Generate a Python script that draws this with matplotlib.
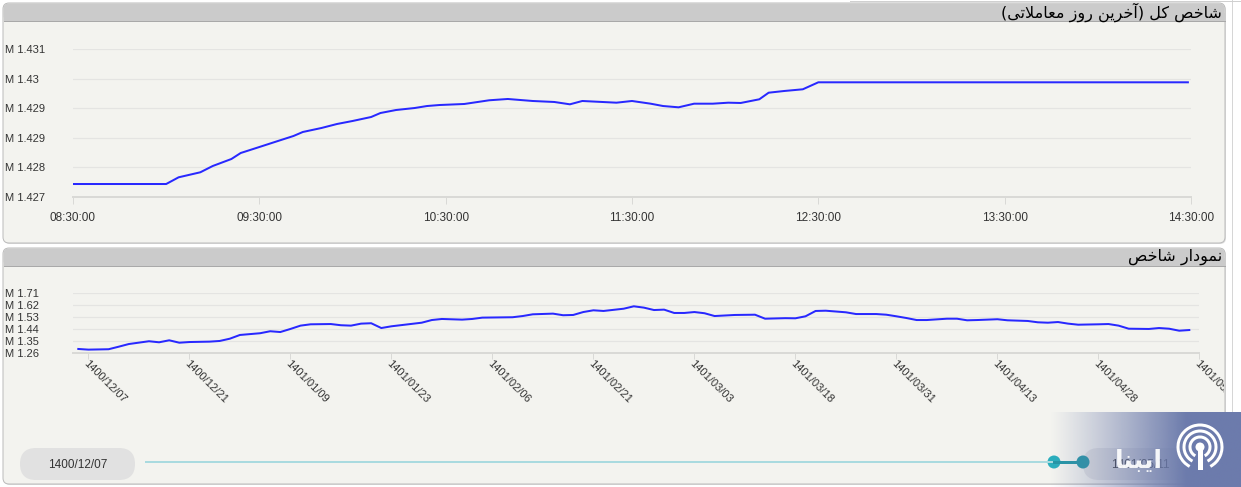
import matplotlib
matplotlib.use('Agg')
import matplotlib.pyplot as plt
from matplotlib.patches import FancyBboxPatch, Rectangle, Circle, Arc
from matplotlib.transforms import Bbox, TransformedBbox
import numpy as np

# ---- data ----
title_top = 'شاخص کل (آخرین روز معاملاتی)'
title_bottom = 'نمودار شاخص'
logo_text = 'ایبنا'

# intraday index (million points)
intraday_times = ['08:30', '09:00', '09:04', '09:11', '09:15', '09:21', '09:24', '09:30',
                  '09:36', '09:41', '09:44', '09:50', '09:55', '10:00', '10:06', '10:09',
                  '10:14', '10:20', '10:24', '10:28', '10:36', '10:44', '10:50', '10:58',
                  '11:05', '11:10', '11:14', '11:25', '11:30', '11:36', '11:40', '11:45',
                  '11:50', '11:56', '12:01', '12:05', '12:11', '12:14', '12:19', '12:25',
                  '12:30', '14:29']
intraday_values = [1.427351, 1.427351, 1.427532, 1.427668, 1.427838, 1.428027, 1.428189, 1.428351,
                   1.428514, 1.428649, 1.428757, 1.428865, 1.428973, 1.429054, 1.429162, 1.429270,
                   1.429351, 1.429405, 1.429459, 1.429486, 1.429514, 1.429614, 1.429649, 1.429595,
                   1.429568, 1.429505, 1.429595, 1.429549, 1.429595, 1.429522, 1.429459, 1.429424,
                   1.429522, 1.429522, 1.429549, 1.429541, 1.429641, 1.429819, 1.429865, 1.429911,
                   1.430100, 1.430100]
hour_labels = ['08:30:00', '09:30:00', '10:30:00', '11:30:00', '12:30:00', '13:30:00', '14:30:00']

# daily index (trading day number, million points)
daily_day = [0, 1, 3, 4, 5, 7, 8, 9, 10, 11, 13, 14, 15, 16, 18, 19, 20, 21, 22, 23, 25, 26, 27,
             28, 29, 30, 31, 33, 34, 35, 36, 38, 39, 40, 43, 44, 45, 47, 48, 49, 50, 51, 52, 54,
             55, 56, 57, 58, 59, 60, 61, 62, 63, 65, 67, 68, 70, 71, 72, 73, 74, 76, 77, 79, 80,
             81, 82, 83, 84, 86, 87, 88, 89, 91, 92, 94, 95, 96, 97, 98, 99, 101, 102, 103, 104,
             106, 107, 108, 109, 110]
daily_values = [1.288, 1.283, 1.286, 1.305, 1.325, 1.346, 1.338, 1.353, 1.335, 1.340, 1.343, 1.348,
                1.365, 1.393, 1.406, 1.421, 1.415, 1.438, 1.463, 1.473, 1.475, 1.466, 1.463,
                1.478, 1.481, 1.445, 1.458, 1.476, 1.485, 1.505, 1.513, 1.508, 1.513, 1.523,
                1.526, 1.535, 1.548, 1.553, 1.541, 1.543, 1.565, 1.578, 1.573, 1.590,
                1.608, 1.598, 1.580, 1.583, 1.558, 1.558, 1.565, 1.556, 1.535, 1.543, 1.545,
                1.515, 1.519, 1.518, 1.533, 1.573, 1.575, 1.563, 1.550, 1.550, 1.545,
                1.533, 1.520, 1.505, 1.505, 1.515, 1.515, 1.503, 1.505, 1.511, 1.503, 1.498,
                1.488, 1.485, 1.490, 1.478, 1.470, 1.473, 1.475, 1.463, 1.440,
                1.438, 1.445, 1.440, 1.425, 1.430]
date_labels = ['1400/12/07', '1400/12/21', '1401/01/09', '1401/01/23', '1401/02/06', '1401/02/21',
               '1401/03/03', '1401/03/18', '1401/03/31', '1401/04/13', '1401/04/28', '1401/05/11']
range_start = '1400/12/07'
range_end = '1401/05/11'

top_yticks = [1.4270, 1.4278, 1.4286, 1.4294, 1.4302, 1.4310]
bottom_yticks = [1.26, 1.35, 1.44, 1.53, 1.62, 1.71]

# ---- persian shaping (matplotlib has no arabic shaping) ----
FORMS = {
    'ا': '\uFE8D\uFE8E', 'آ': '\uFE81\uFE82', 'د': '\uFEA9\uFEAA', 'ر': '\uFEAD\uFEAE',
    'ز': '\uFEAF\uFEB0', 'و': '\uFEED\uFEEE',
    'ب': '\uFE8F\uFE90\uFE91\uFE92', 'ت': '\uFE95\uFE96\uFE97\uFE98',
    'خ': '\uFEA5\uFEA6\uFEA7\uFEA8', 'ش': '\uFEB5\uFEB6\uFEB7\uFEB8',
    'ص': '\uFEB9\uFEBA\uFEBB\uFEBC', 'ع': '\uFEC9\uFECA\uFECB\uFECC',
    'ل': '\uFEDD\uFEDE\uFEDF\uFEE0', 'م': '\uFEE1\uFEE2\uFEE3\uFEE4',
    'ن': '\uFEE5\uFEE6\uFEE7\uFEE8', 'ک': '\uFB8E\uFB8F\uFB90\uFB91',
    'ی': '\uFBFC\uFBFD\uFBFE\uFBFF',
}


def joins_next(c):
    return c in FORMS and len(FORMS[c]) == 4


def rtl(s):
    out = []
    i = 0
    while i < len(s):
        c = s[i]
        p = i > 0 and joins_next(s[i - 1])
        if c == 'ل' and i + 1 < len(s) and s[i + 1] == 'ا':
            out.append('\uFEFC' if p else '\uFEFB')
            i += 2
            continue
        if c not in FORMS:
            out.append(c)
            i += 1
            continue
        n = joins_next(c) and i + 1 < len(s) and s[i + 1] in FORMS
        f = FORMS[c]
        out.append(f[3] if p and n else f[1] if p else f[2] if n else f[0])
        i += 1
    swap = {'(': ')', ')': '('}
    return ''.join(swap.get(ch, ch) for ch in reversed(out))


def minutes(t):
    h, m = t.split(':')
    return int(h) * 60 + int(m) - 510


W, H = 1241, 487
PT = 0.72  # points per pixel at dpi 100
plt.rcParams['font.family'] = ['Liberation Sans', 'DejaVu Sans']

fig = plt.figure(figsize=(W / 100, H / 100), dpi=100, facecolor='white')

# background layer in pixel coords
bg = fig.add_axes([0, 0, 1, 1], zorder=-10)
bg.set_xlim(0, W)
bg.set_ylim(H, 0)
bg.axis('off')

panel_bg = '#f3f3ef'
head_bg = '#cbcbcb'
for y0, h in [(3, 240), (248, 236)]:
    bg.add_patch(FancyBboxPatch((4, y0 + 1), 1222, h, boxstyle='round,pad=0,rounding_size=6',
                                fc='#dddddd', ec='none'))
    bg.add_patch(FancyBboxPatch((3, y0), 1222, h, boxstyle='round,pad=0,rounding_size=6',
                                fc=panel_bg, ec='#bcbcbc', lw=1 * PT))
    bg.add_patch(FancyBboxPatch((3.5, y0 + 0.5), 1221, 17, boxstyle='round,pad=0,rounding_size=5',
                                fc=head_bg, ec='none'))
    bg.add_patch(Rectangle((3.5, y0 + 10), 1221, 7.5, fc=head_bg, ec='none'))
    bg.plot([3.5, 1224.5], [y0 + 18, y0 + 18], color='#a9a9a9', lw=1 * PT)
bg.plot([1232, 1232], [0, H], color='#d6d6d6', lw=1 * PT)
bg.plot([850, W], [1, 1], color='#d0d0d0', lw=1 * PT)

bg.text(1222, 12, rtl(title_top), ha='right', va='center', fontsize=11.5,
        family=['DejaVu Sans'], color='black')
bg.text(1222, 257, rtl(title_bottom), ha='right', va='center', fontsize=11.5,
        family=['DejaVu Sans'], color='black')

# range slider
bg.add_patch(FancyBboxPatch((20, 448), 115, 32, boxstyle='round,pad=0,rounding_size=16',
                            fc='#e1e1e1', ec='none'))
bg.text(77.5, 464.5, range_start, ha='center', va='center', fontsize=8.5, color='#333333')
bg.plot([145, 1054], [462, 462], color='#a9dadf', lw=2 * PT, solid_capstyle='butt')
bg.add_patch(FancyBboxPatch((1083, 448), 110, 32, boxstyle='round,pad=0,rounding_size=16',
                            fc='#e1e1e1', ec='none'))
bg.text(1140, 464.5, range_end, ha='center', va='center', fontsize=8.5, color='#333333')
bg.plot([1054, 1083], [462, 462], color='#2496a6', lw=3 * PT)
bg.add_patch(Circle((1054, 462), 6.5, fc='#2aaebd', ec='none'))
bg.add_patch(Circle((1083, 462), 6.5, fc='#2496a6', ec='none'))

grid_c = '#e4e4e2'
axis_c = '#d9d9d6'
txt_c = '#333333'
line_c = '#2828ff'

# ---- top chart: intraday ----
x0, x1 = 73, 1191
ax1 = fig.add_axes([x0 / W, (H - 197) / H, (x1 - x0) / W, 148 / H])
ax1.set_facecolor('none')
tm = [minutes(t) for t in intraday_times]
ax1.plot(tm, intraday_values, color=line_c, lw=2 * PT, solid_joinstyle='round')
ax1.set_xlim(0, 360)
ax1.set_ylim(top_yticks[0], top_yticks[-1])
ax1.set_xticks([minutes(l[:5]) for l in hour_labels], hour_labels)
ax1.set_yticks(top_yticks, [f'M {round(v, 3):g}' for v in top_yticks])
ax1.grid(axis='y', color=grid_c, lw=1.2 * PT)
for s in ['top', 'right', 'left']:
    ax1.spines[s].set_visible(False)
ax1.spines['bottom'].set_color(axis_c)
ax1.spines['bottom'].set_linewidth(2 * PT)
ax1.tick_params(axis='x', length=7 * PT, width=1 * PT, color=axis_c, pad=8 * PT,
                labelsize=8.5, labelcolor=txt_c)
ax1.tick_params(axis='y', length=0, pad=68 * PT, labelsize=8, labelcolor=txt_c)
for t in ax1.get_yticklabels():
    t.set_ha('left')

# ---- bottom chart: daily ----
bx0 = 78.3 - 0.5 * 10.1
bx1 = 78.3 + 111 * 10.1
ax2 = fig.add_axes([bx0 / W, (H - 352.7) / H, (bx1 - bx0) / W, 60 / H])
ax2.set_facecolor('none')
ax2.plot(daily_day, daily_values, color=line_c, lw=2 * PT, solid_joinstyle='round')
ax2.set_xlim(-0.5, 111)
ax2.set_ylim(bottom_yticks[0], bottom_yticks[-1])
ax2.set_xticks([1 + 10 * i for i in range(len(date_labels))], date_labels)
ax2.set_yticks(bottom_yticks, [f'M {v:g}' for v in bottom_yticks])
ax2.grid(axis='y', color=grid_c, lw=1.2 * PT)
for s in ['top', 'right', 'left']:
    ax2.spines[s].set_visible(False)
ax2.spines['bottom'].set_color(axis_c)
ax2.spines['bottom'].set_linewidth(2 * PT)
ax2.tick_params(axis='x', length=6 * PT, width=1 * PT, color=axis_c, pad=0,
                labelsize=8, labelcolor=txt_c)
ax2.tick_params(axis='y', length=0, pad=(bx0 - 5) * PT, labelsize=8, labelcolor=txt_c)
for t in ax2.get_yticklabels():
    t.set_ha('left')
clip = TransformedBbox(Bbox([[0, 0], [1224 / W, 1]]), fig.transFigure)
for t in ax2.get_xticklabels():
    t.set_rotation(-45)
    t.set_ha('left')
    t.set_va('top')
    t.set_rotation_mode('anchor')
    t.set_clip_box(clip)
    t.set_clip_on(True)

# ---- watermark logo on top ----
ov = fig.add_axes([0, 0, 1, 1], zorder=20)
ov.set_facecolor('none')
ov.axis('off')
grad = np.zeros((1, 200, 4))
grad[..., 0] = 108 / 255
grad[..., 1] = 123 / 255
grad[..., 2] = 172 / 255
grad[0, :, 3] = np.clip(np.linspace(0, 1.4, 200), 0, 1) ** 1.1
ov.imshow(grad, extent=[1050, W, H, 412], aspect='auto', interpolation='bilinear')
ov.set_xlim(0, W)
ov.set_ylim(H, 0)
cx, cy = 1200, 447
for r in [22, 16, 10]:
    ov.add_patch(Arc((cx, cy), 2 * r, 2 * r, theta1=118, theta2=422, color='white', lw=3 * PT))
ov.add_patch(Circle((cx, cy), 4.5, fc='white', ec='none'))
ov.add_patch(Rectangle((cx - 2.5, cy), 5, 23, fc='white', ec='none'))
ov.text(1139, 461, rtl(logo_text), ha='center', va='center', fontsize=18, fontweight='bold',
        family=['DejaVu Sans'], color='white', alpha=0.92)

fig.savefig('out.png', dpi=100)
